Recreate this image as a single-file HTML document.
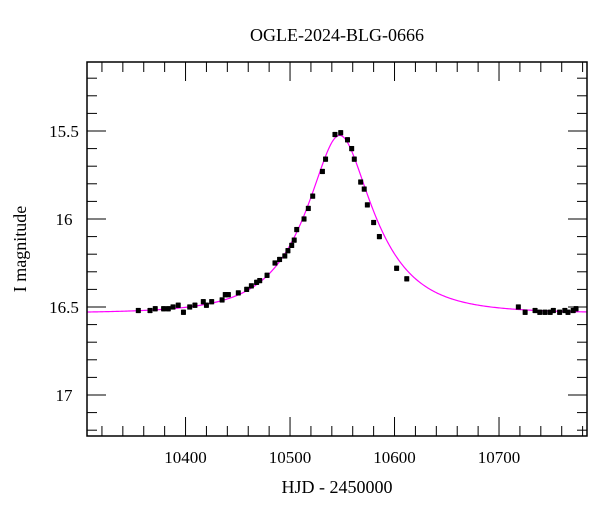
<!DOCTYPE html>
<html><head><meta charset="utf-8"><style>
body{margin:0;background:#fff;}
svg text{font-family:"Liberation Serif",serif;fill:#000;}
</style></head><body>
<svg id="chart" width="600" height="512" xmlns="http://www.w3.org/2000/svg">
<rect x="0" y="0" width="600" height="512" fill="#fff"/>
<text x="337" y="41" font-size="18" text-anchor="middle">OGLE-2024-BLG-0666</text>
<text x="337" y="493" font-size="18" text-anchor="middle">HJD - 2450000</text>
<text x="26" y="249" font-size="18" text-anchor="middle" transform="rotate(-90 26 249)">I magnitude</text>
<g id="ticks"></g>
<g id="curve"></g>
<g id="points"></g>
<rect x="87" y="62" width="500" height="374" fill="none" stroke="#000" stroke-width="1.5"/>
</svg>
<script>
const xTicks=[10400,10500,10600,10700];
const yTicks=[15.5,16,16.5,17];
const hjd=[10354.8,10366,10371,10379,10383.5,10388,10393,10398,10404,10409,10417,10420,10425,10435,10438,10441,10450.5,10458.5,10463,10468,10471,10478,10485.6,10490,10495,10498,10501.6,10504,10506.4,10513.4,10517.5,10521.7,10531,10534,10543,10548.5,10555,10559,10561.5,10567.6,10571,10574,10580,10585.5,10602,10611.7,10718.5,10725,10734.5,10739,10744,10749,10752,10758,10763,10766,10771,10773.7];
const mag=[16.52,16.52,16.51,16.51,16.51,16.50,16.49,16.53,16.50,16.49,16.47,16.49,16.47,16.46,16.43,16.43,16.42,16.40,16.38,16.36,16.35,16.32,16.25,16.23,16.21,16.18,16.15,16.12,16.06,16.00,15.94,15.87,15.73,15.66,15.52,15.51,15.55,15.60,15.66,15.79,15.83,15.92,16.02,16.10,16.28,16.34,16.50,16.53,16.52,16.53,16.53,16.53,16.52,16.53,16.52,16.53,16.52,16.51];
const err=[0.012,0.012,0.012,0.012,0.012,0.012,0.012,0.012,0.012,0.012,0.012,0.012,0.012,0.012,0.012,0.012,0.012,0.012,0.012,0.012,0.012,0.012,0.012,0.012,0.012,0.012,0.012,0.012,0.012,0.012,0.012,0.012,0.012,0.012,0.012,0.012,0.012,0.012,0.012,0.012,0.012,0.012,0.012,0.012,0.012,0.012,0.012,0.012,0.012,0.012,0.012,0.012,0.012,0.012,0.012,0.012,0.012,0.012];
const model=[10547.5,0.42,60,16.535]; // t0, u0, tE, baseline
const NS='http://www.w3.org/2000/svg';
const X0=87,X1=587,Y0=62,Y1=436;
const xmin=10305.7,xmax=10784.2,ymin=15.108,ymax=17.233;
const sx=t=>X0+(t-xmin)/(xmax-xmin)*(X1-X0);
const sy=m=>Y0+(m-ymin)/(ymax-ymin)*(Y1-Y0);
function mk(tag,attrs,parent){const e=document.createElementNS(NS,tag);for(const k in attrs)e.setAttribute(k,attrs[k]);parent.appendChild(e);return e;}
const tg=document.getElementById('ticks');
for(let t=10320;t<=10780;t+=20){const major=t%100===0;const L=major?19:10;const x=sx(t);
 const a=mk('line',{x1:x,x2:x,y1:Y1,y2:Y1-L,stroke:'#000','stroke-width':1},tg);
 
 
 const b=mk('line',{x1:x,x2:x,y1:Y0,y2:Y0+L,stroke:'#000','stroke-width':1},tg);
 
 }
for(let i=0;i<xTicks.length;i++){const tx=mk('text',{x:sx(xTicks[i]),y:463,'font-size':17,'text-anchor':'middle'},tg);tx.textContent=xTicks[i];
 
 }
for(let k=152;k<=172;k++){const m=k/10;const major=k%5===0;const L=major?19:10;const y=sy(m);
 const a=mk('line',{x1:X0,x2:X0+L,y1:y,y2:y,stroke:'#000','stroke-width':1},tg);
 
 
 const b=mk('line',{x1:X1,x2:X1-L,y1:y,y2:y,stroke:'#000','stroke-width':1},tg);
 
 }
for(let i=0;i<yTicks.length;i++){const tx=mk('text',{x:64,y:sy(yTicks[i])+6,'font-size':17,'text-anchor':'middle'},tg);tx.textContent=String(yTicks[i]);
 
 }
let d='';for(let t=xmin;t<=xmax;t+=1){const u=Math.sqrt(model[1]*model[1]+Math.pow((t-model[0])/model[2],2));const A=(u*u+2)/(u*Math.sqrt(u*u+4));const m=model[3]-2.5*Math.log10(A);d+=(d?'L':'M')+sx(t).toFixed(2)+' '+sy(m).toFixed(2);}
const cp=mk('path',{d:d,fill:'none',stroke:'#ff00ff','stroke-width':1.2},document.getElementById('curve'));


const pg=document.getElementById('points');
for(let i=0;i<hjd.length;i++){const x=sx(hjd[i]),y=sy(mag[i]);
 const g=mk('g',{},pg);
 
 
 mk('line',{x1:x,x2:x,y1:sy(mag[i]-err[i]),y2:sy(mag[i]+err[i]),stroke:'#000','stroke-width':1.2},g);
 mk('line',{x1:x-2,x2:x+2,y1:sy(mag[i]-err[i]),y2:sy(mag[i]-err[i]),stroke:'#000','stroke-width':1},g);
 mk('line',{x1:x-2,x2:x+2,y1:sy(mag[i]+err[i]),y2:sy(mag[i]+err[i]),stroke:'#000','stroke-width':1},g);
 mk('rect',{x:x-2.5,y:y-2.5,width:5,height:5,fill:'#000'},g);}
</script>
</body></html>
